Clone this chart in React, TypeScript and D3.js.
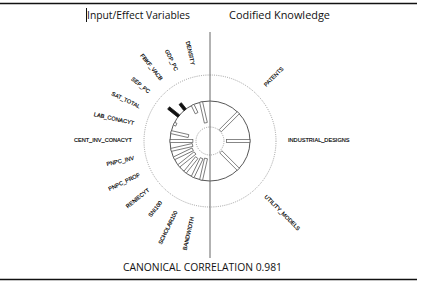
import React from "react";
import * as d3 from "d3";

const xVars = [
  "DENSITY", "GDP_PC", "FBKF_VACB", "SEP_PC", "SAT_TOTAL", "LAB_CONACYT",
  "CENT_INV_CONACYT", "PNPC_INV", "PNPC_PROF", "RENIECYT", "SNI100", "SCHOLAR100", "BANDWIDTH",
];
const xLoadings = [-0.82, -0.35, 0.3, 0.5, -0.1, -0.69, -0.88, -0.85, -0.8, -0.8, -0.72, -0.8, -0.85];
const yVars = ["PATENTS", "INDUSTRIAL_DESIGNS", "UTILITY_MODELS"];
const yLoadings = [-0.98, -0.9, -0.95];
const xTitle = "Input/Effect Variables";
const yTitle = "Codified Knowledge";
const footer = "CANONICAL CORRELATION 0.981";

const W = 444, H = 283;
const cx = 210, cy = 141;

const rScale = d3.scaleLinear().domain([-1, 0, 1]).range([14, 40, 66]);
const xAngle = d3.scalePoint<string>().domain(xVars).range([-180 / 14, -180 + 180 / 14]);
const yAngle = d3.scalePoint<string>().domain(yVars).range([45, 135]);

const LABEL_R = 78;
const BAR_W = 3;

function Bar({ angle, v }: { angle: number; v: number }) {
  const r0 = rScale(0), r1 = rScale(v);
  const lo = Math.min(r0, r1), hi = Math.max(r0, r1);
  const pos = v > 0;
  return (
    <rect
      transform={`rotate(${angle})`}
      x={-BAR_W / 2}
      y={-hi}
      width={BAR_W}
      height={hi - lo}
      fill={pos ? "#111" : "#fff"}
      stroke={pos ? "#111" : "#555"}
      strokeWidth={0.7}
    />
  );
}

function Label({ angle, text, left }: { angle: number; text: string; left: boolean }) {
  const a = (angle * Math.PI) / 180;
  const ux = Math.sin(a), uy = -Math.cos(a);
  const x = ux * LABEL_R, y = uy * LABEL_R;
  const rot = left
    ? (Math.atan2(-uy, -ux) * 180) / Math.PI
    : (Math.atan2(uy, ux) * 180) / Math.PI;
  return (
    <text
      x={x}
      y={y}
      transform={`rotate(${rot},${x},${y})`}
      textAnchor={left ? "end" : "start"}
      dominantBaseline="middle"
      fontSize={5.6}
      fontFamily="Liberation Sans, Arial, sans-serif"
      fill="#000"
      stroke="#000"
      strokeWidth={0.15}
    >
      {text}
    </text>
  );
}

export default function App() {
  const font = "Open Sans, Liberation Sans, sans-serif";
  return (
    <svg
      width={W}
      height={H}
      style={{ position: "absolute", left: 0, top: 0, background: "#fff" }}
    >
      <rect width={W} height={H} fill="#fff" />
      <line x1={0} x2={417} y1={3.5} y2={3.5} stroke="#111" strokeWidth={1.3} />
      <line x1={0} x2={417} y1={279.5} y2={279.5} stroke="#111" strokeWidth={1.3} />
      <line x1={86.5} x2={86.5} y1={8} y2={22} stroke="#111" strokeWidth={1} />
      <text x={87} y={19} fontSize={11} fontFamily={font} fill="#111" textLength={103} lengthAdjust="spacingAndGlyphs">
        {xTitle}
      </text>
      <text x={229} y={19} fontSize={11} fontFamily={font} fill="#111" textLength={101} lengthAdjust="spacingAndGlyphs">
        {yTitle}
      </text>
      <text x={123} y={271} fontSize={11} fontFamily={font} fill="#111" textLength={159} lengthAdjust="spacingAndGlyphs">
        {footer}
      </text>
      <g transform={`translate(${cx},${cy})`}>
        <circle r={rScale(1)} fill="none" stroke="#777" strokeWidth={0.7} strokeDasharray="1,1.2" />
        <circle r={rScale(-1)} fill="none" stroke="#777" strokeWidth={0.7} strokeDasharray="1,1.2" />
        <circle r={rScale(0)} fill="none" stroke="#444" strokeWidth={0.9} />
        {xVars.map((d, i) => (
          <Bar key={d} angle={xAngle(d)!} v={xLoadings[i]} />
        ))}
        {yVars.map((d, i) => (
          <Bar key={d} angle={yAngle(d)!} v={yLoadings[i]} />
        ))}
        {xVars.map((d) => (
          <Label key={d} angle={xAngle(d)!} text={d} left={true} />
        ))}
        {yVars.map((d) => (
          <Label key={d} angle={yAngle(d)!} text={d} left={false} />
        ))}
      </g>
      <line x1={210} x2={210} y1={32} y2={258} stroke="#666" strokeWidth={1} />
    </svg>
  );
}
